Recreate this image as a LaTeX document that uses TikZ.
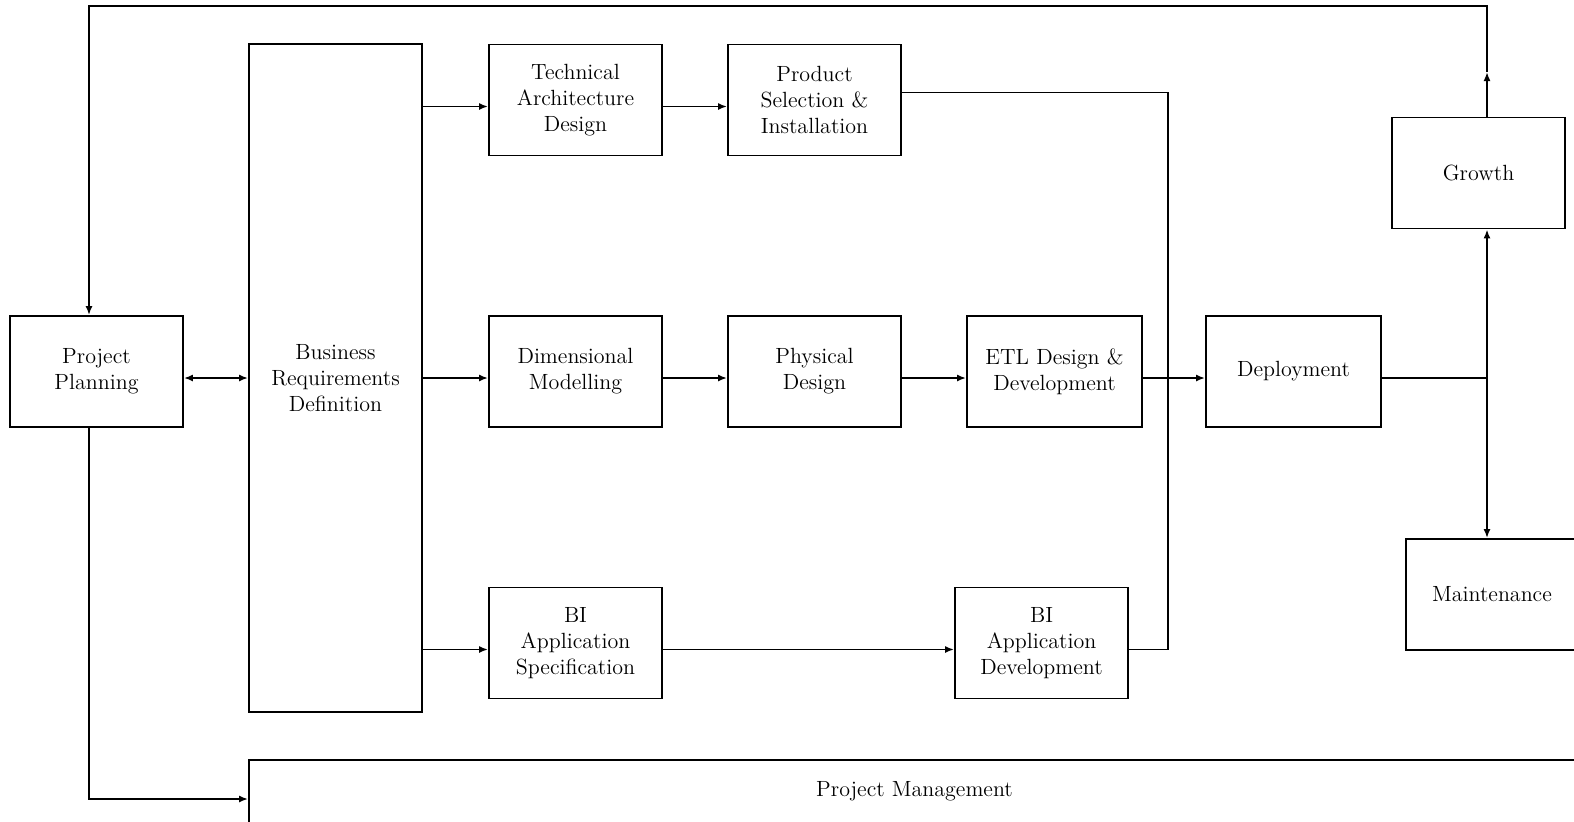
\documentclass[tikz,border=0pt]{standalone}
\usetikzlibrary{arrows.meta}
\begin{document}
\begin{tikzpicture}[x=0.5pt,y=-0.5pt,line width=0.9pt,
  >={Latex[length=4.5pt,width=3.5pt]},
  phase/.style={draw,align=center,inner sep=0pt,minimum width=86.5pt,minimum height=55.5pt,
    font=\fontsize{11}{13}\selectfont}]
  \useasboundingbox (0,0) rectangle (1574,821);
  \clip (0,0) rectangle (1574,821);
  \node[phase] (plan) at (96.5,371.5) {Project\\Planning};
  \node[phase,minimum height=334pt] (bizreq) at (335.5,378) {Business\\Requirements\\Definition};
  \node[phase] (techarch) at (575.5,100) {Technical\\Architecture\\Design};
  \node[phase] (prodsel) at (814.5,100) {Product\\Selection \&\\Installation};
  \node[phase] (dimmod) at (575.5,371.5) {Dimensional\\Modelling};
  \node[phase] (physdes) at (814.5,371.5) {Physical\\Design};
  \node[phase,minimum width=87.5pt] (etl) at (1054.5,371.5) {ETL Design \&\\Development};
  \node[phase,minimum width=87.5pt] (deploy) at (1293.5,371.5) {Deployment};
  \node[phase] (growth) at (1478.5,173) {Growth};
  \node[phase,minimum width=86pt] (maint) at (1492,594.5) {Maintenance};
  \node[phase] (bispec) at (575.5,643) {BI\\Application\\Specification};
  \node[phase] (bidev) at (1041.5,643) {BI\\Application\\Development};
  \node[phase,minimum width=665.5pt,minimum height=31.5pt] (projmgmt) at (914.5,791.5) {Project Management};
  \coordinate (rail) at (89,6);
  \coordinate (bus) at (1168,0);
  \coordinate (riser) at (1487,0);
  \coordinate (tip) at (1487,72);
  \draw[<->] ([yshift=-3.25pt]plan.east) -- ([yshift=-3.25pt]plan.east -| bizreq.west);
  \draw[->] ([yshift=-3.25pt]techarch.west -| bizreq.east) -- ([yshift=-3.25pt]techarch.west);
  \draw[->] ([yshift=-3.25pt]dimmod.west -| bizreq.east) -- ([yshift=-3.25pt]dimmod.west);
  \draw[->] ([yshift=-3.25pt]bispec.west -| bizreq.east) -- ([yshift=-3.25pt]bispec.west);
  \draw[->] ([yshift=-3.25pt]techarch.east) -- ([yshift=-3.25pt]prodsel.west);
  \draw[->] ([yshift=-3.25pt]dimmod.east) -- ([yshift=-3.25pt]physdes.west);
  \draw[->] ([yshift=-3.25pt]physdes.east) -- ([yshift=-3.25pt]etl.west);
  \draw[->] ([yshift=-3.25pt]etl.east) -- ([yshift=-3.25pt]deploy.west);
  \draw[->] ([yshift=-3.25pt]bispec.east) -- ([yshift=-3.25pt]bidev.west);
  \draw ([yshift=3.75pt]prodsel.east) -| ([yshift=-3.25pt]bidev.east -| bus) -- ([yshift=-3.25pt]bidev.east);
  \draw ([yshift=-3.25pt]deploy.east) -- ([yshift=-3.25pt]deploy.east -| riser);
  \draw[<->] (growth.south -| riser) -- (maint.north -| riser);
  \draw[->] (growth.north -| riser) -- (tip);
  \draw[->] (tip) |- (rail) -- (rail |- plan.north);
  \draw[->] (rail |- plan.south) |- ([yshift=-3.75pt]projmgmt.west);
\end{tikzpicture}
\end{document}
